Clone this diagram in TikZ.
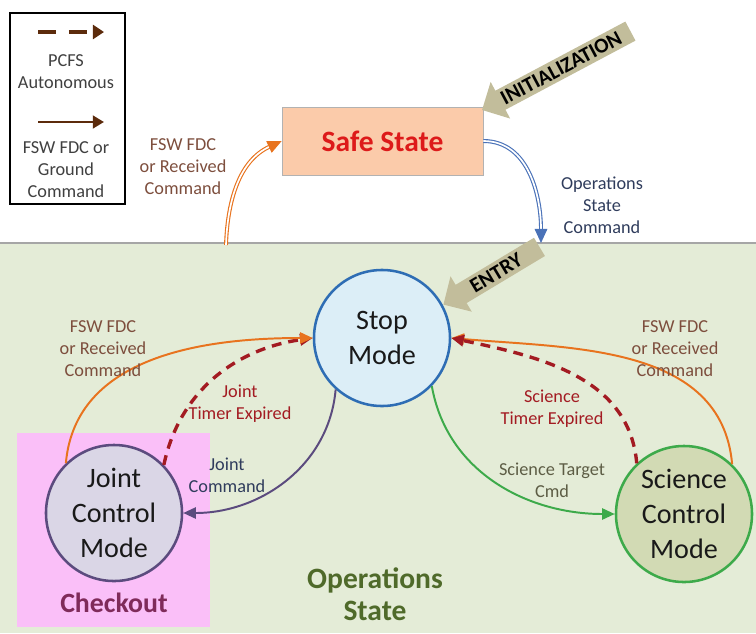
\documentclass[tikz,border=0pt]{standalone}
\usepackage{fontspec}
\setmainfont{Carlito}
\usepackage{xcolor}
\usetikzlibrary{
	arrows.meta,
	shapes.arrows,
	positioning
}
\definecolor{opsBg}{HTML}{E4ECD7}
\definecolor{checkPink}{HTML}{FABFF8}
\definecolor{safeFill}{HTML}{FBCBAA}
\definecolor{safeRed}{HTML}{DD1A1A}
\definecolor{stopFill}{HTML}{DCEEF7}
\definecolor{stopLine}{HTML}{2E6DB4}
\definecolor{jointFill}{HTML}{DAD6E6}
\definecolor{jointLine}{HTML}{5B4B7E}
\definecolor{sciFill}{HTML}{D2DAB4}
\definecolor{sciLine}{HTML}{3DAA4A}
\definecolor{orangeLn}{HTML}{E8731E}
\definecolor{timerRed}{HTML}{A31B22}
\definecolor{blueLn}{HTML}{4A72B8}
\definecolor{khaki}{HTML}{C2BD9B}
\definecolor{brownTxt}{HTML}{7D4E3D}
\definecolor{navyTxt}{HTML}{2F3C5C}
\definecolor{oliveTxt}{HTML}{5D5D45}
\definecolor{opsTxt}{HTML}{4F6A2A}
\definecolor{checkTxt}{HTML}{7F2B5A}
\definecolor{legBrown}{HTML}{5C2B0C}
\tikzstyle{every picture}+=[>=stealth]

\begin{document}
\begin{tikzpicture}[
		x=0.025cm, y=-0.025cm,
		mode/.style={circle, line width=1.8pt, minimum size=3.4cm, inner sep=0pt,
			align=center, text=black!90, font=\fontsize{20}{25}\selectfont},
		lbl/.style={align=center, font=\fontsize{13}{15.6}\selectfont},
		arr/.style={-{Triangle[length=9pt, width=8pt]}, line width=1.4pt},
		arrDash/.style={arr, line width=2.4pt, dash pattern=on 7pt off 5pt},
		dbl/.style={-{Triangle[length=10pt, width=9pt]}, line width=0.8pt,
			double=white, double distance=1.2pt},
		bigArrow/.style={single arrow, shape border rotate=180, fill=khaki,
			inner sep=2.5pt, single arrow head extend=0.25cm,
			font=\bfseries\fontsize{15}{15}\selectfont}
	]

	\useasboundingbox (0,0) rectangle (756,633);

	% operations area and checkout patch
	\fill[opsBg] (0,243) rectangle (756,633);
	\draw[black!35, line width=0.8pt] (0,243) -- (756,243);
	\fill[checkPink] (17,433) rectangle (210,627);

	% legend
	\draw[line width=1.5pt] (10,13) rectangle (125,204);
	\coordinate (dashL) at (38,32);
	\coordinate (dashR) at (104,32);
	\coordinate (solidL) at (38,122);
	\coordinate (solidR) at (104,122);
	\draw[legBrown, line width=3.2pt, dash pattern=on 13pt off 9pt,
		-{Triangle[length=8pt, width=10pt]}] (dashL) -- (dashR);
	\draw[legBrown, line width=2pt, -{Triangle[length=8pt, width=9pt]}] (solidL) -- (solidR);
	\node[lbl, text=black!75] (legPcfs) at (66,72) {PCFS\\Autonomous};
	\node[lbl, text=black!75] (legFsw) at (66,170) {FSW FDC or\\Ground\\Command};

	% states
	\node[draw=black!30, fill=safeFill, minimum width=5.025cm, minimum height=1.7cm,
		text=safeRed, font=\bfseries\fontsize{21}{21}\selectfont] (safe) at (382.5,141) {Safe State};
	\node[mode, draw=stopLine, fill=stopFill] (stop) at (382,338) {Stop\\Mode};
	\node[mode, draw=jointLine, fill=jointFill] (joint) at (114,513) {Joint\\Control\\Mode};
	\node[mode, draw=sciLine, fill=sciFill] (sci) at (684,514) {Science\\Control\\Mode};

	\node[bigArrow, minimum height=4.2cm, rotate=28] (init) at (561,68) {INITIALIZATION};
	\node[bigArrow, minimum height=2.8cm, rotate=31] (entry) at (496,273) {ENTRY};

	\node[text=checkTxt, font=\bfseries\fontsize{19.8}{19.8}\selectfont] (checkout) at (114,603) {Checkout};
	\node[text=opsTxt, align=center, font=\bfseries\fontsize{21}{22.7}\selectfont] (opsState) at (375,594) {Operations\\State};

	% transitions of the top level
	\coordinate (safeIn) at (226,245);
	\coordinate (opsIn) at (541,243);
	\draw[dbl, orangeLn] (safeIn) to[out=88, in=205] (safe.west);
	\draw[dbl, blueLn] (safe.east) to[out=0, in=90] (opsIn);
	\node[lbl, text=brownTxt] (safeLbl) at (183,167) {FSW FDC\\or Received\\Command};
	\node[lbl, text=navyTxt] (opsLbl) at (602,205) {Operations\\State\\Command};

	% joint side
	\draw[arrDash, timerRed] (joint.44) to[out=78, in=188] (stop.west);
	\draw[arr, orangeLn] (joint.134) to[out=85, in=180] (stop.west);
	\draw[arr, jointLine] (stop.228) to[out=-95, in=0] (joint.east);
	\node[lbl, text=brownTxt] (jFsw) at (103,349) {FSW FDC\\or Received\\Command};
	\node[lbl, text=timerRed] (jTimer) at (240,404) {Joint\\Timer Expired};
	\node[lbl, text=navyTxt] (jCmd) at (227,475) {Joint\\Command};

	% science side
	\draw[arr, orangeLn] (sci.46) to[out=95, in=-5] (stop.east);
	\draw[arrDash, timerRed] (sci.133) to[out=95, in=-12] (stop.east);
	\draw[arr, sciLine] (stop.-44) to[out=-80, in=180] (sci.west);
	\node[lbl, text=brownTxt] (sFsw) at (675,349) {FSW FDC\\or Received\\Command};
	\node[lbl, text=timerRed] (sTimer) at (552,409) {Science\\Timer Expired};
	\node[lbl, text=oliveTxt] (sCmd) at (552,480) {Science Target\\Cmd};

\end{tikzpicture}
\end{document}
